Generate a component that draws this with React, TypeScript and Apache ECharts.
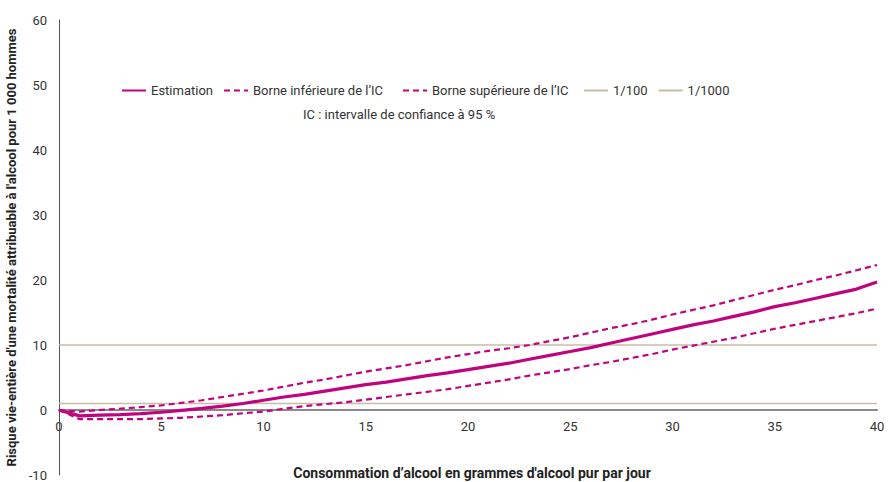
import React, { useEffect, useRef } from "react";
import * as echarts from "echarts";

const doses = [
  0, 1, 2, 3, 4, 5, 6, 7, 8, 9, 10, 11, 12, 13, 14, 15, 16, 17, 18, 19, 20,
  21, 22, 23, 24, 25, 26, 27, 28, 29, 30, 31, 32, 33, 34, 35, 36, 37, 38, 39, 40,
];

const estimation = [
  0, -0.9, -0.8, -0.7, -0.55, -0.35, -0.05, 0.25, 0.6, 1.0, 1.5, 2.0, 2.4, 2.9,
  3.4, 3.9, 4.3, 4.8, 5.3, 5.7, 6.2, 6.7, 7.2, 7.8, 8.4, 9.0, 9.6, 10.3, 11.0,
  11.7, 12.4, 13.1, 13.7, 14.4, 15.1, 15.9, 16.5, 17.2, 17.9, 18.6, 19.7,
];

const borneInf = [
  0, -1.4, -1.4, -1.4, -1.4, -1.3, -1.2, -1.0, -0.8, -0.5, -0.25, 0.2, 0.6, 0.9,
  1.2, 1.6, 2.0, 2.4, 2.8, 3.2, 3.7, 4.2, 4.7, 5.3, 5.8, 6.3, 6.9, 7.4, 8.0,
  8.6, 9.3, 9.9, 10.5, 11.1, 11.8, 12.5, 13.1, 13.7, 14.3, 14.9, 15.6,
];

const borneSup = [
  0, -0.25, 0.0, 0.2, 0.45, 0.7, 1.1, 1.5, 2.0, 2.5, 3.0, 3.6, 4.2, 4.7, 5.3,
  5.9, 6.4, 6.9, 7.5, 8.1, 8.6, 9.1, 9.5, 10.0, 10.6, 11.2, 11.9, 12.6, 13.2,
  13.9, 14.7, 15.4, 16.1, 16.9, 17.7, 18.5, 19.2, 20.0, 20.7, 21.5, 22.3,
];

const seuilRange = [0, 40];
const seuil100 = 10;
const seuil1000 = 1;

const names = [
  "Estimation",
  "Borne inférieure de l\u2019IC",
  "Borne supérieure de l\u2019IC",
  "1/100",
  "1/1000",
];

const xAxisTitle = "Consommation d\u2019alcool en grammes d'alcool pur par jour";
const yAxisTitle = "Risque vie-entière d'une mortalité attribuable à l'alcool pour 1 000 hommes";
const noteText = "IC : intervalle de confiance à 95 %";

const MAGENTA = "#C0047E";
const TAN = "#C9BCA6";

export default function App() {
  const ref = useRef<HTMLDivElement>(null);

  useEffect(() => {
    if (!ref.current) return;
    const chart = echarts.init(ref.current, undefined, { renderer: "svg" });
    const pair = (arr: number[]) => doses.map((d, i) => [d, arr[i]]);
    const font = "Roboto, 'Liberation Sans', Arial, sans-serif";
    const legendBase = {
      top: 79,
      itemWidth: 24,
      itemHeight: 14,
      itemGap: 10,
      itemStyle: { opacity: 0 },
      textStyle: { fontSize: 13, color: "#333", fontFamily: font },
    };

    chart.setOption({
      animation: false,
      textStyle: { fontFamily: font },
      grid: { left: 59, right: 12, top: 20, bottom: 7, containLabel: false, outerBoundsMode: "none" },
      legend: [
        { ...legendBase, left: 116, data: names.slice(0, 2) },
        { ...legendBase, left: 397, data: names.slice(2, 3) },
        { ...legendBase, left: 578, data: names.slice(3, 5) },
      ],
      graphic: [
        {
          type: "text",
          left: 303,
          top: 108,
          style: { text: noteText, fontSize: 13, fill: "#333", fontFamily: font },
        },
      ],
      xAxis: {
        type: "value",
        min: 0,
        max: 40,
        interval: 5,
        offset: -65,
        name: xAxisTitle,
        nameLocation: "middle",
        nameGap: 56,
        nameTextStyle: { fontSize: 14, fontWeight: "bold", color: "#222", fontFamily: font, padding: [0, 0, 0, 8] },
        axisLine: { onZero: false, lineStyle: { color: "#8a8a8a", width: 2 } },
        axisTick: { show: false },
        axisLabel: { fontSize: 13, color: "#333", margin: 10 },
        splitLine: { show: false },
      },
      yAxis: {
        type: "value",
        min: -10,
        max: 60,
        interval: 10,
        name: yAxisTitle,
        nameLocation: "middle",
        nameGap: 38,
        nameTextStyle: { fontSize: 13, fontWeight: "bold", color: "#222", fontFamily: font },
        axisLine: { show: true, onZero: false, lineStyle: { color: "#555", width: 1 } },
        axisTick: { show: false },
        axisLabel: { fontSize: 13, color: "#333", margin: 12 },
        splitLine: { show: false },
      },
      series: [
        {
          name: names[3],
          type: "line",
          data: seuilRange.map((x) => [x, seuil100]),
          symbol: "none",
          lineStyle: { color: TAN, width: 1.5 },
          itemStyle: { color: TAN },
          z: 1,
        },
        {
          name: names[4],
          type: "line",
          data: seuilRange.map((x) => [x, seuil1000]),
          symbol: "none",
          lineStyle: { color: TAN, width: 1.5 },
          itemStyle: { color: TAN },
          z: 1,
        },
        {
          name: names[1],
          type: "line",
          data: pair(borneInf),
          symbol: "none",
          lineStyle: { color: MAGENTA, width: 2.2, type: [6, 4] },
          itemStyle: { color: MAGENTA },
          z: 3,
        },
        {
          name: names[2],
          type: "line",
          data: pair(borneSup),
          symbol: "none",
          lineStyle: { color: MAGENTA, width: 2.2, type: [6, 4] },
          itemStyle: { color: MAGENTA },
          z: 3,
        },
        {
          name: names[0],
          type: "line",
          data: pair(estimation),
          symbol: "none",
          lineStyle: { color: MAGENTA, width: 3.2 },
          itemStyle: { color: MAGENTA },
          z: 4,
        },
      ],
    });

    return () => chart.dispose();
  }, []);

  return <div ref={ref} style={{ width: 889, height: 482, position: "absolute", left: 0, top: 0 }} />;
}
